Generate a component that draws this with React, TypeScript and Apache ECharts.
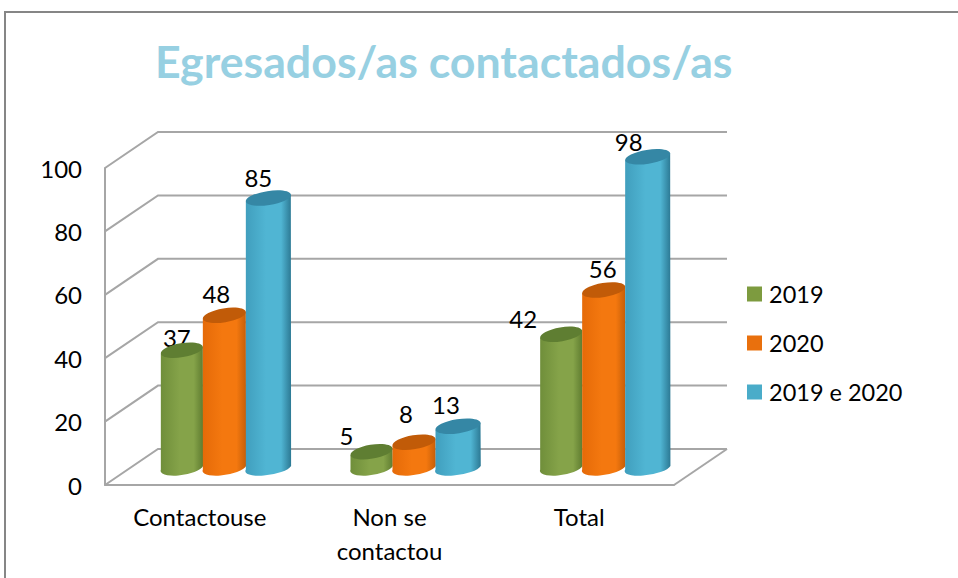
import React, { useEffect, useRef } from "react";
import * as echarts from "echarts";

const titleText = "Egresados/as contactados/as";
const categories = ["Contactouse", "Non se\ncontactou", "Total"];
const yTicks = [0, 20, 40, 60, 80, 100];
const values2019 = [37, 5, 42];
const values2020 = [48, 8, 56];
const valuesBoth = [85, 13, 98];

// Hand-placed data-label nudges of the reference, in pixels from the cylinder's top centre.
const nudge2019 = [[-5, -13], [-25, -16], [-38, -16]];
const nudge2020 = [[-8, -22], [-8, -29], [-1, -21]];
const nudgeBoth = [[-10, -21], [-12, -22], [-19, -15]];

const FONT = "Lato, Carlito, sans-serif";
const GRID_COLOR = "#a6a6a6";
const DEPTH_X = 53;
const DEPTH_Y = -36;
const FLOOR_X = 25.5;
const BASE_LIFT = -19;
const TOP_LIFT = -17.5;

type Skin = { legend: string; left: string; mid: string; right: string; top: string };
const green: Skin = { legend: "#7d9b3f", left: "#6f8e3a", mid: "#85a349", right: "#5f7c30", top: "#5f7e32" };
const orange: Skin = { legend: "#e9700d", left: "#e56a08", mid: "#f4780f", right: "#c55e08", top: "#c15b08" };
const blue: Skin = { legend: "#4aacc9", left: "#409ebd", mid: "#50b5d3", right: "#2c7994", top: "#3587a5" };

function cylinderSeries(
  name: string,
  values: number[],
  nudges: number[][],
  skin: Skin,
  shift: number,
  rx: number,
  z: number
) {
  const ry = 7;
  const tilt = 3.5;
  return {
    name,
    type: "custom",
    z,
    clip: false,
    itemStyle: { color: skin.legend },
    encode: { x: 0, y: 1 },
    data: values.map((v, i) => [i, v]),
    renderItem: (_p: any, api: any) => {
      const cat = api.value(0);
      const val = api.value(1);
      const [bx, by] = api.coord([cat, 0]);
      const [, ty0] = api.coord([cat, val]);
      const cx = bx + FLOOR_X + shift;
      const bot = by + BASE_LIFT;
      const top = ty0 + TOP_LIFT;
      const angle = Math.atan2(tilt, rx);
      const arc = `A ${rx} ${ry} ${(-angle * 180) / Math.PI} 0 `;
      const body =
        `M ${cx - rx} ${top + tilt} L ${cx - rx} ${bot + tilt} ` +
        `${arc}0 ${cx + rx} ${bot - tilt} L ${cx + rx} ${top - tilt} Z`;
      const n = nudges[cat];
      return {
        type: "group",
        children: [
          {
            type: "text",
            style: {
              text: String(val),
              x: cx + n[0],
              y: top + n[1],
              align: "center",
              verticalAlign: "middle",
              font: `24px ${FONT}`,
              fill: "#000",
            },
          },
          {
            type: "path",
            shape: { pathData: body },
            style: {
              fill: new echarts.graphic.LinearGradient(0, 0, 1, 0, [
                { offset: 0, color: skin.left },
                { offset: 0.45, color: skin.mid },
                { offset: 0.78, color: skin.mid },
                { offset: 1, color: skin.right },
              ]),
            },
          },
          {
            type: "ellipse",
            x: cx,
            y: top,
            rotation: angle,
            shape: { cx: 0, cy: 0, rx: Math.hypot(rx, tilt), ry },
            style: { fill: skin.top },
          },
        ],
      };
    },
  };
}

const wallSeries = {
  type: "custom",
  z: 1,
  clip: false,
  silent: true,
  encode: { x: 0, y: 1 },
  data: yTicks.map((t) => [0, t]),
  renderItem: (params: any, api: any) => {
    const sys = params.coordSys;
    const [, y] = api.coord([0, api.value(1)]);
    const x0 = sys.x;
    const x1 = sys.x + sys.width;
    const lineStyle = { stroke: GRID_COLOR, lineWidth: 2, fill: "none" };
    const children: any[] = [
      {
        type: "polyline",
        shape: {
          points: [
            [x0, y],
            [x0 + DEPTH_X, y + DEPTH_Y],
            [x1 + DEPTH_X, y + DEPTH_Y],
          ],
        },
        style: lineStyle,
      },
    ];
    if (api.value(1) === 0) {
      children.push({
        type: "line",
        shape: { x1, y1: y, x2: x1 + DEPTH_X, y2: y + DEPTH_Y },
        style: lineStyle,
      });
    }
    return { type: "group", children };
  },
};

export default function App() {
  const ref = useRef<HTMLDivElement>(null);
  useEffect(() => {
    const chart = echarts.init(ref.current!, null, { renderer: "svg" });
    chart.setOption({
      animation: false,
      backgroundColor: "#fff",
      title: {
        text: titleText,
        left: 150,
        top: 33,
        textStyle: { fontFamily: FONT, fontWeight: "bold", fontSize: 44.7, color: "#97d0e2" },
      },
      legend: {
        orient: "vertical",
        left: 742,
        top: 277,
        itemWidth: 15,
        itemHeight: 15,
        itemGap: 25,
        icon: "rect",
        data: ["2019", "2020", "2019 e 2020"],
        textStyle: { fontFamily: FONT, fontSize: 23.5, color: "#000", padding: [0, 0, 0, 2] },
      },
      grid: { left: 105, top: 168, width: 569, height: 317 },
      xAxis: {
        type: "category",
        data: categories,
        axisTick: { show: false },
        axisLine: { lineStyle: { color: GRID_COLOR, width: 2 } },
        axisLabel: { color: "#000", fontFamily: FONT, fontSize: 24, margin: 14, lineHeight: 34 },
      },
      yAxis: {
        type: "value",
        min: 0,
        max: 100,
        interval: 20,
        splitLine: { show: false },
        axisTick: { show: false },
        axisLine: { show: true, lineStyle: { color: GRID_COLOR, width: 2 } },
        axisLabel: { color: "#000", fontFamily: FONT, fontSize: 24, margin: 23 },
      },
      graphic: [
        {
          type: "rect",
          shape: { x: 5, y: 12, width: 1000, height: 1000 },
          style: { fill: "none", stroke: "#868686", lineWidth: 2 },
          z: 0,
        },
      ],
      series: [
        wallSeries,
        cylinderSeries("2019", values2019, nudge2019, green, -43.5, 21, 3),
        cylinderSeries("2020", values2020, nudge2020, orange, -1, 21.5, 4),
        cylinderSeries("2019 e 2020", valuesBoth, nudgeBoth, blue, 43, 22.5, 5),
      ],
    });
    return () => chart.dispose();
  }, []);
  return <div ref={ref} style={{ position: "fixed", left: 0, top: 0, width: 958, height: 578 }} />;
}
